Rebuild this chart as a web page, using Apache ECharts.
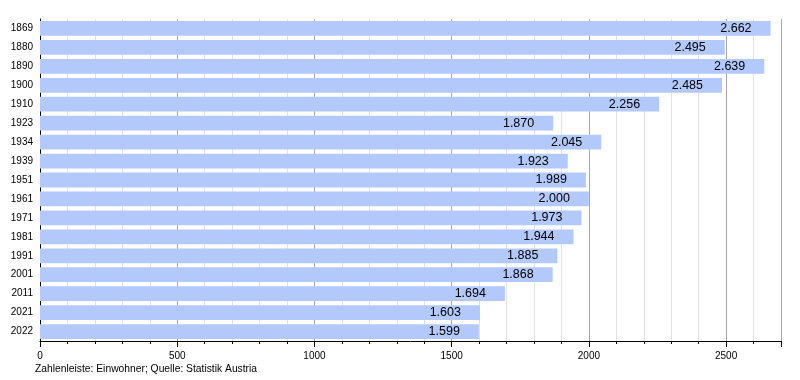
<!DOCTYPE html>
<html><head><meta charset="utf-8">
<script src="https://cdn.jsdelivr.net/npm/echarts@6/dist/echarts.min.js"></script>
<style>html,body{margin:0;padding:0;background:#fff}#c{width:800px;height:380px}</style>
</head><body><div id="c"></div>
<script>
const years = ['1869','1880','1890','1900','1910','1923','1934','1939','1951','1961','1971','1981','1991','2001','2011','2021','2022'];
const population = [2662,2495,2639,2485,2256,1870,2045,1923,1989,2000,1973,1944,1885,1868,1694,1603,1599];
const xTicks = [0,500,1000,1500,2000,2500];
const footer = 'Zahlenleiste: Einwohner; Quelle: Statistik Austria';

const FONT = '"Liberation Sans", Arial, sans-serif';
function fmt(v){ return String(v).replace(/\B(?=(\d{3})+(?!\d))/g,'.'); }

const chart = echarts.init(document.getElementById('c'), null, {renderer:'canvas'});
chart.setOption({
  animation:false,
  textStyle:{fontFamily:FONT},
  grid:{left:40, right:19, top:19, bottom:39, containLabel:false},
  xAxis:{
    type:'value', min:0, max:2700, interval:500,
    axisLine:{show:true, lineStyle:{color:'#000', width:1}},
    axisTick:{show:true, length:6, lineStyle:{color:'#000'}},
    minorTick:{show:true, splitNumber:5, length:3, lineStyle:{color:'#000'}},
    splitLine:{show:true, lineStyle:{color:'#a8a8a8', width:1}},
    minorSplitLine:{show:true, lineStyle:{color:'#e2e2e2', width:1}},
    axisLabel:{color:'#000', fontSize:10, fontFamily:FONT, margin:10,
      formatter:function(v){ return xTicks.indexOf(v)>=0 ? String(v) : ''; }}
  },
  yAxis:{
    type:'category', data:years, inverse:true,
    axisLine:{show:true, lineStyle:{color:'#000', width:1}},
    axisTick:{show:false},
    axisLabel:{color:'#000', fontSize:10, fontFamily:FONT, margin:7}
  },
  series:[{
    type:'bar', data:population, barCategoryGap:'22%',
    itemStyle:{color:'#b3c8fb'},
    label:{show:true, position:'insideRight', distance:19, color:'#000',
      fontSize:12.5, fontFamily:FONT, formatter:function(p){return fmt(p.value);}}
  }],
  graphic:[{type:'text', left:35, top:364, style:{text:footer, fill:'#000', font:'10.3px '+FONT}}]
});
</script></body></html>
